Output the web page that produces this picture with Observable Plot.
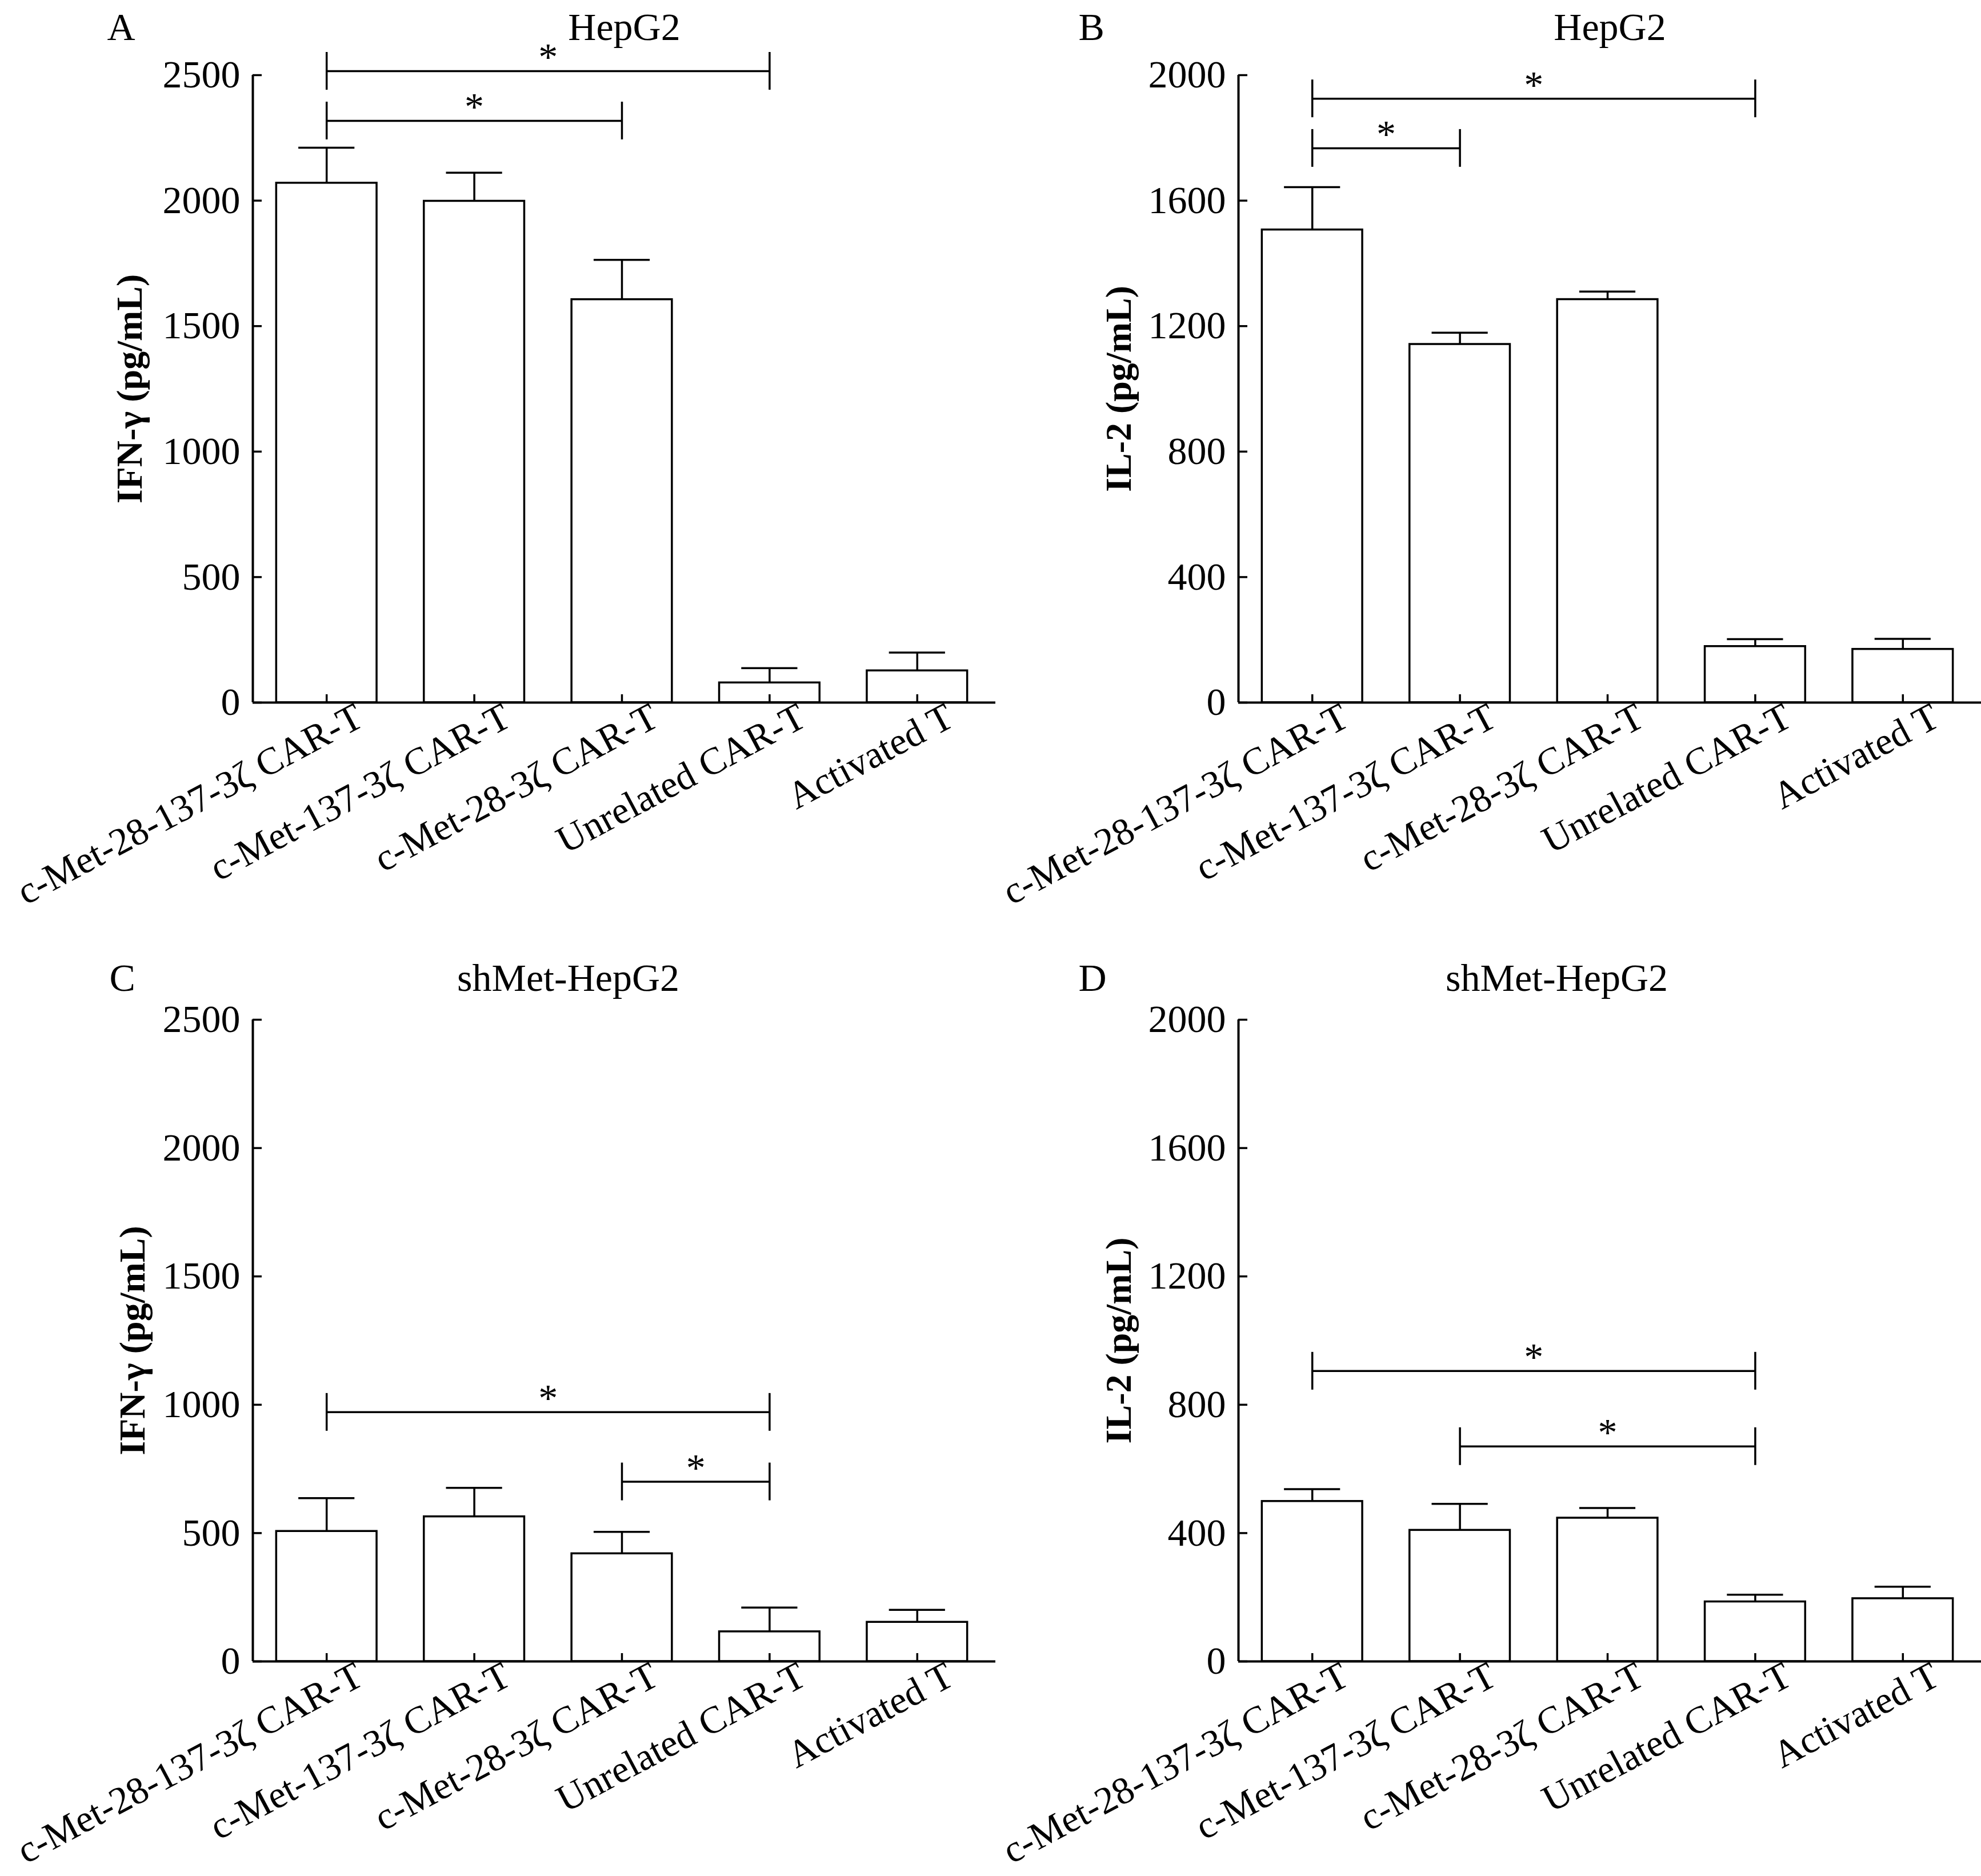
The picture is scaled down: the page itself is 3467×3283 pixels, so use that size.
<!DOCTYPE html>
<html>
<head>
<meta charset="utf-8">
<script src="https://cdn.jsdelivr.net/npm/d3@7"></script>
<script src="https://cdn.jsdelivr.net/npm/@observablehq/plot@0.6"></script>
<style>
html, body { margin: 0; padding: 0; background: #fff; color: #000; }
#fig { position: relative; width: 3467px; height: 3283px; background: #fff; overflow: hidden; }
.panel { position: absolute; }
</style>
</head>
<body>
<div id="fig"></div>
<script>
// ---------- data ----------
const categories = ["c-Met-28-137-3ζ CAR-T", "c-Met-137-3ζ CAR-T", "c-Met-28-3ζ CAR-T", "Unrelated CAR-T", "Activated T"];

// A: IFN-γ, HepG2
const ifngHepG2 = [2070, 1998, 1606, 79, 127];
const ifngHepG2Sem = [141, 113, 158, 58, 72];
// B: IL-2, HepG2
const il2HepG2 = [1507, 1142, 1285, 179, 170];
const il2HepG2Sem = [136, 37, 25, 23, 33];
// C: IFN-γ, shMet-HepG2
const ifngShMet = [507, 564, 420, 116, 153];
const ifngShMetSem = [129, 112, 85, 94, 48];
// D: IL-2, shMet-HepG2
const il2ShMet = [499, 409, 447, 186, 196];
const il2ShMetSem = [38, 82, 31, 22, 37];

const ifngTicks = [0, 500, 1000, 1500, 2000, 2500];
const il2Ticks = [0, 400, 800, 1200, 1600, 2000];

// significance brackets: [group index a, group index b, bracket level]
const sigA = [[0, 3, 2516], [0, 2, 2318]];
const sigB = [[0, 3, 1925], [0, 1, 1767]];
const sigC = [[0, 3, 971], [2, 3, 700]];
const sigD = [[0, 3, 905], [1, 3, 670]];

const panelLetters = ["A", "B", "C", "D"];
const panelTitles = ["HepG2", "HepG2", "shMet-HepG2", "shMet-HepG2"];
const yLabels = ["IFN-γ (pg/mL)", "IL-2 (pg/mL)", "IFN-γ (pg/mL)", "IL-2 (pg/mL)"];

// ---------- drawing ----------
const FONT = "'Liberation Serif', 'Times New Roman', serif";
const xDomain = [-0.5, categories.length - 0.5];
const xIndex = categories.map((_, i) => i);

function panel(cfg) {
  const {values, sem, ticks, sig, letter, title, ylabel, left, top, height, plotH,
         titleDy, titleDx, letterDx, ylabelDx} = cfg;
  const rows = values.map((v, i) => ({i, value: v, err: sem[i]}));
  const ends = sig.flatMap(([a, b, lvl]) => [{x: a, y: lvl}, {x: b, y: lvl}]);
  const marginTop = 131, marginLeft = 442, width = 1742;
  const marginBottom = height - marginTop - plotH;
  const sw = 3.5;
  const chart = Plot.plot({
    width, height, marginTop, marginLeft, marginRight: 0, marginBottom,
    style: {background: "transparent", fontFamily: FONT, fontSize: "68px", color: "black", overflow: "visible"},
    x: {domain: xDomain, range: [442, 1734]},
    y: {domain: [0, ticks[ticks.length - 1]]},
    marks: [
      Plot.rect(rows, {x1: d => d.i - 0.34, x2: d => d.i + 0.34, y1: 0, y2: "value",
                       fill: "white", stroke: "black", strokeWidth: sw}),
      Plot.ruleX(rows, {x: "i", y1: "value", y2: d => d.value + d.err, stroke: "black", strokeWidth: sw}),
      Plot.ruleY(rows, {y: d => d.value + d.err, x1: d => d.i - 0.19, x2: d => d.i + 0.19,
                        stroke: "black", strokeWidth: sw}),
      Plot.ruleY([0], {stroke: "black", strokeWidth: 4}),
      Plot.ruleX([xDomain[0]], {stroke: "black", strokeWidth: 4}),
      // inward x ticks at the group centres
      Plot.ruleX(xIndex, {x: d => d, y1: 0, y2: 0, insetTop: -14, stroke: "black", strokeWidth: sw}),
      Plot.axisY({ticks, tickFormat: d => String(d), tickSize: -16, tickPadding: 38,
                  stroke: "black", strokeWidth: sw, fontSize: 68, label: null}),
      Plot.axisX({ticks: xIndex, tickFormat: i => categories[i],
                  tickSize: 0, tickPadding: 20, tickRotate: -28, textAnchor: "end", lineAnchor: "middle",
                  dx: 58, fontSize: 67, label: null}),
      // significance brackets
      Plot.ruleY(sig, {y: d => d[2], x1: d => d[0], x2: d => d[1], stroke: "black", strokeWidth: sw}),
      Plot.ruleX(ends, {x: "x", y1: "y", y2: "y", insetTop: -33, insetBottom: -33, stroke: "black", strokeWidth: sw}),
      Plot.text(sig, {x: d => (d[0] + d[1]) / 2, y: d => d[2], text: () => "*",
                      lineAnchor: "bottom", dy: -2, fontSize: 68, fill: "black"}),
      // titles and labels
      Plot.text([title], {text: d => d, frameAnchor: "top", lineAnchor: "bottom", dy: titleDy, dx: titleDx,
                          fontSize: 68, fill: "black"}),
      Plot.text([letter], {text: d => d, frameAnchor: "top-left", textAnchor: "start", lineAnchor: "bottom",
                           dy: titleDy, dx: letterDx, fontSize: 68, fill: "black"}),
      Plot.text([ylabel], {text: d => d, frameAnchor: "left", rotate: -90, textAnchor: "middle", lineAnchor: "middle",
                           dx: ylabelDx, fontWeight: "bold", fontSize: 64, fill: "black"})
    ]
  });
  const div = document.createElement("div");
  div.className = "panel";
  div.style.left = left + "px";
  div.style.top = top + "px";
  div.appendChild(chart);
  document.getElementById("fig").appendChild(div);
}

panel({values: ifngHepG2, sem: ifngHepG2Sem, ticks: ifngTicks, sig: sigA,
       letter: panelLetters[0], title: panelTitles[0], ylabel: yLabels[0],
       left: 0, top: 0, height: 1640, plotH: 1098, titleDy: -62, titleDx: 0, letterDx: -255, ylabelDx: -215});
panel({values: il2HepG2, sem: il2HepG2Sem, ticks: il2Ticks, sig: sigB,
       letter: panelLetters[1], title: panelTitles[1], ylabel: yLabels[1],
       left: 1725, top: 0, height: 1640, plotH: 1098, titleDy: -62, titleDx: 0, letterDx: -280, ylabelDx: -209});
panel({values: ifngShMet, sem: ifngShMetSem, ticks: ifngTicks, sig: sigC,
       letter: panelLetters[2], title: panelTitles[2], ylabel: yLabels[2],
       left: 0, top: 1653, height: 1630, plotH: 1123, titleDy: -51, titleDx: -98, letterDx: -251, ylabelDx: -210});
panel({values: il2ShMet, sem: il2ShMetSem, ticks: il2Ticks, sig: sigD,
       letter: panelLetters[3], title: panelTitles[3], ylabel: yLabels[3],
       left: 1725, top: 1653, height: 1630, plotH: 1123, titleDy: -51, titleDx: -93, letterDx: -280, ylabelDx: -209});
</script>
</body>
</html>
